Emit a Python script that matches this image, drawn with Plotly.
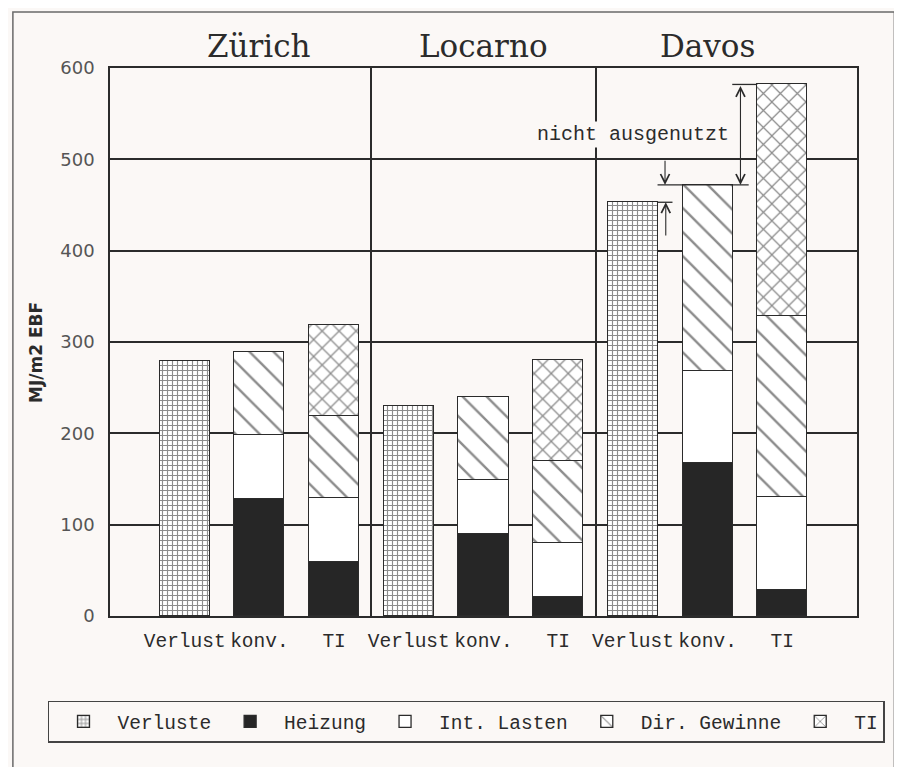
import plotly.graph_objects as go

# ---- data (MJ/m2 EBF) ----
locations = ["Zürich", "Locarno", "Davos"]
categories = ["Verlust", "konv.", "TI"] * 3
verluste = [279, None, None, 230, None, None, 453, None, None]
heizung = [None, 128, 59, None, 90, 21, None, 168, 29]
int_lasten = [None, 70, 70, None, 59, 59, None, 100, 101]
dir_gewinne = [None, 91, 90, None, 91, 90, None, 204, 199]
ti_gewinne = [None, None, 100, None, None, 110, None, None, 253]
y_ticks = [0, 100, 200, 300, 400, 500, 600]
annot_text = "nicht ausgenutzt"

BG = "#fbf8f6"
INK = "#2b2b2b"
MONO = "Liberation Mono, Courier New, monospace"
SERIF = "DejaVu Serif, serif"
SANS = "DejaVu Sans, sans-serif"

xpos = list(range(len(categories)))
BW = 0.67

fig = go.Figure()

series = [
    ("Verluste", verluste, dict(color="white", pattern=dict(shape="+", size=5, solidity=0.4, fgcolor="#1a1a1a", bgcolor="white"))),
    ("Heizung", heizung, dict(color="#262626")),
    ("Int. Lasten", int_lasten, dict(color="white")),
    ("Dir. Gewinne", dir_gewinne, dict(color="white", pattern=dict(shape="\\", size=17, solidity=0.14, fgcolor="#1a1a1a", bgcolor="white"))),
    ("TI", ti_gewinne, dict(color="white", pattern=dict(shape="x", size=12, solidity=0.2, fgcolor="#1a1a1a", bgcolor="white"))),
]
for name, vals, mk in series:
    mk = dict(mk)
    mk["line"] = dict(color=INK, width=1.3)
    fig.add_trace(go.Bar(x=xpos, y=vals, name=name, width=BW, marker=mk,
                         hoverinfo="skip"))

# totals for the Davos annotation, derived from the data
def total(i):
    return sum(v[i] for v in (verluste, heizung, int_lasten, dir_gewinne, ti_gewinne) if v[i] is not None)

iv, ik, it = 6, 7, 8
v_tot, k_tot, t_tot = total(iv), total(ik), total(it)

shapes = [
    dict(type="line", xref="x", yref="y", x0=it - 0.67, x1=it - BW / 2, y0=t_tot, y1=t_tot, line=dict(color=INK, width=1.3)),
    dict(type="line", xref="x", yref="y", x0=ik - 0.67, x1=ik + 0.55, y0=k_tot, y1=k_tot, line=dict(color=INK, width=1.3)),
    dict(type="line", xref="x", yref="y", x0=iv + BW / 2, x1=iv + 0.53, y0=v_tot, y1=v_tot, line=dict(color=INK, width=1.3)),
    # outer frame of the figure
    dict(type="rect", xref="paper", yref="paper", x0=-0.13, x1=1.05, y0=-0.29, y1=1.102,
         line=dict(color="#6a6a6a", width=1.5), layer="below"),
]

annotations = []
for k, loc in enumerate(locations):
    annotations.append(dict(text=loc, x=3 * k + 1, y=1.041, xref="x", yref="paper",
                            showarrow=False, yanchor="middle",
                            font=dict(family=SERIF, size=31, color=INK)))

arrow_style = dict(showarrow=True, text="", xref="x", yref="y", axref="x", ayref="y",
                   arrowhead=5, arrowsize=1.6, arrowwidth=1.1, arrowcolor=INK, standoff=0)
annotations.append(dict(x=7.44, y=k_tot, ax=7.44, ay=t_tot, arrowside="end+start",
                        startarrowhead=5, startarrowsize=1.6, **arrow_style))
annotations.append(dict(x=6.43, y=k_tot, ax=6.43, ay=k_tot + 28, **arrow_style))
annotations.append(dict(x=6.44, y=v_tot, ax=6.44, ay=v_tot - 38, **arrow_style))
annotations.append(dict(text=annot_text, x=6.0, y=527, xref="x", yref="y", showarrow=False,
                        bgcolor=BG, font=dict(family=MONO, size=20, color=INK)))
annotations.append(dict(text="MJ/m2 EBF", x=-0.099, y=0.48, xref="paper", yref="paper",
                        xanchor="center", yanchor="middle",
                        textangle=-90, showarrow=False,
                        font=dict(family=SANS, size=17, color=INK, weight="bold")))

# the page adds an 8px body margin, so the figure is 8px smaller than the window
fig.update_layout(
    width=894, height=759,
    margin=dict(l=102, r=45, t=60, b=151),
    paper_bgcolor=BG, plot_bgcolor=BG,
    barmode="stack", bargap=0,
    showlegend=True,
    legend=dict(orientation="h", traceorder="normal",
                x=-0.083, xanchor="left", y=-0.193, yanchor="middle",
                bordercolor="#444", borderwidth=1.5, bgcolor=BG,
                font=dict(family=MONO, size=19.5, color=INK),
                itemwidth=58, itemclick=False, itemdoubleclick=False),
    shapes=shapes,
    annotations=annotations,
)
fig.update_xaxes(range=[-1, 9], tickmode="array", tickvals=xpos, ticktext=categories,
                 showgrid=False, zeroline=False, showline=True, mirror=True,
                 linecolor=INK, linewidth=1.6, ticks="", ticklabelstandoff=6,
                 tickfont=dict(family=MONO, size=19.5, color=INK),
                 minor=dict(tickmode="array", tickvals=[2.5, 5.5], showgrid=True,
                            gridcolor=INK, gridwidth=1.5, ticks=""))
fig.update_yaxes(range=[0, 600], tickmode="array", tickvals=y_ticks,
                 showgrid=True, gridcolor=INK, gridwidth=1.5, zeroline=False,
                 showline=True, mirror=True, linecolor=INK, linewidth=1.6,
                 ticks="", ticklabelstandoff=10,
                 tickfont=dict(family=SANS, size=18, color="#555"))

fig.write_html("out.html")
